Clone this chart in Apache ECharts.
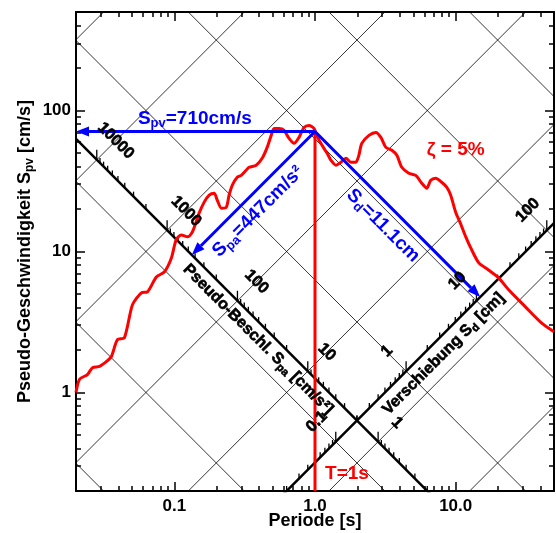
<!DOCTYPE html>
<html>
<head>
<meta charset="utf-8">
<title>Tripartites Antwortspektrum</title>
<script src="https://cdn.jsdelivr.net/npm/echarts@6.0.0/dist/echarts.min.js"></script>
<style>
  html, body { margin: 0; padding: 0; background: #fff; }
  #chart { width: 556px; height: 533px; }
</style>
</head>
<body>
<div id="chart"></div>
<script>
/**
 * Tripartites Antwortspektrum (zeta = 5 %)
 * Spv über T doppelt-logarithmisch, dazu Sd- und Spa-Diagonalen
 */

// axis ranges
const T_MIN = 0.02
const T_MAX = 50
const SPV_MIN = 0.2
const SPV_MAX = 500
const TWO_PI = 2 * Math.PI

// tick labels of the frame
const xTicks = [0.1, 1, 10]
const xTickLabels = ['0.1', '1.0', '10.0']
const yTicks = [1, 10, 100]
const yTickLabels = ['1', '10', '100']
const minorSteps = [2, 3, 4, 5, 6, 7, 8, 9]
const decades = [0.001, 0.01, 0.1, 1, 10, 100, 1000, 10000]

// diagonal grid lines
const sdGrid = [0.001, 0.01, 0.1, 1, 10, 100, 1000] // cm
const spaGrid = [0.1, 1, 10, 100, 1000, 10000, 100000] // cm/s²

// the two diagonal scales
const SPA_SCALE_SD = 0.2 // Spa scale lies on Sd = 0.2 cm
const SD_SCALE_SPA = 2 // Sd scale lies on Spa = 2 cm/s²
const spaLabels = [1, 10, 100, 1000, 10000]
const sdLabels = [0.1, 1, 10, 100]

// response spectrum, zeta = 5 %
const periods = [
  0.02, 0.0212, 0.0241, 0.0262, 0.0294, 0.033, 0.0357, 0.0394, 0.0442, 0.0504,
  0.0583, 0.0644, 0.0745, 0.0849, 0.0953, 0.103, 0.112, 0.124, 0.134, 0.143,
  0.15, 0.163, 0.177, 0.192, 0.202, 0.216, 0.234, 0.245, 0.258, 0.28,
  0.299, 0.324, 0.34, 0.382, 0.421, 0.457, 0.488, 0.512, 0.556, 0.603,
  0.654, 0.71, 0.77, 0.836, 0.906, 0.984, 1.03, 1.1, 1.22, 1.3,
  1.41, 1.53, 1.66, 1.8, 1.95, 2.05, 2.15, 2.42, 2.71, 2.94,
  3.19, 3.52, 3.82, 4.14, 4.64, 5.2, 5.74, 6.23, 6.65, 7.21,
  7.96, 8.63, 9.22, 10, 10.8, 11.8, 12.8, 14.6, 17.1, 20.2,
  23.8, 31.3, 40.7, 50
]
const spv = [
  1.0, 1.24, 1.34, 1.5, 1.53, 1.66, 1.8, 2.37, 2.45, 4.19,
  5.09, 5.17, 6.6, 7.16, 9.0, 12.1, 13.1, 12.7, 13.7, 16.2,
  18.7, 22.4, 25.1, 25.9, 23.1, 20.3, 20.6, 25.1, 29.5, 33.6,
  34.7, 37.7, 39.6, 40.9, 45.8, 54.8, 66.6, 74.6, 74.6, 72.3,
  63.4, 58.5, 64.5, 75.8, 78.3, 74.6, 66.6, 58.5, 49.7, 44.3,
  40.9, 43.0, 45.8, 43.0, 43.0, 48.1, 58.5, 66.6, 69.9, 64.5,
  54.8, 52.2, 48.1, 39.6, 35.9, 34.7, 30.5, 28.1, 32.0, 33.1,
  31.0, 28.6, 25.1, 19.0, 15.9, 12.7, 10.6, 8.3, 7.4, 6.5,
  5.35, 4.05, 3.12, 2.7
]

// reading at T = 1 s
const T_READ = 1
const SPV_READ = 71
const SD_READ = SPV_READ * T_READ / TWO_PI
const SPA_READ = SPV_READ * TWO_PI / T_READ

const FONT = '"Liberation Sans", Arial, Helvetica, sans-serif'
const BLUE = '#0000ff'
const RED = '#ff0000'

// --- geometry helpers (T [s], Spv [cm/s]) ---
const sdLine = (sd) => [[T_MIN, TWO_PI * sd / T_MIN], [T_MAX, TWO_PI * sd / T_MAX]]
const spaLine = (spa) => [[T_MIN, spa * T_MIN / TWO_PI], [T_MAX, spa * T_MAX / TWO_PI]]
// crossing of an Sd line and an Spa line
function cross(sd, spa) {
  const v = Math.sqrt(sd * spa)
  return [TWO_PI * sd / v, v]
}
const inside = (p) => p[0] >= T_MIN * 0.999 && p[0] <= T_MAX * 1.001 && p[1] >= SPV_MIN * 0.999 && p[1] <= SPV_MAX * 1.001

function minorValues(lo, hi) {
  const out = []
  decades.forEach((d) => minorSteps.forEach((m) => {
    const v = m * d
    if (v > lo * 1.001 && v < hi * 0.999) out.push(v)
  }))
  return out
}

// ticks along the diagonal scales: [T, Spv, major]
function diagTicks(pointOf) {
  const out = []
  decades.forEach((d) => [1].concat(minorSteps).forEach((m) => {
    const p = pointOf(m * d)
    if (inside(p)) out.push([p[0], p[1], m === 1 ? 1 : 0])
  }))
  return out
}
const spaTicks = diagTicks((spa) => cross(SPA_SCALE_SD, spa))
const sdTicks = diagTicks((sd) => cross(sd, SD_SCALE_SPA))

// --- rich text styles ---
function rich(size, sub, color, heavy) {
  const extra = heavy ? { stroke: color, lineWidth: 0.6 } : {}
  return {
    m: Object.assign({ fontSize: size, fontWeight: 'bold', fontFamily: FONT, fill: color, lineHeight: size + 4, verticalAlign: 'middle' }, extra),
    s: Object.assign({ fontSize: sub, fontWeight: 'bold', fontFamily: FONT, fill: color, lineHeight: sub, verticalAlign: 'bottom' }, extra),
  }
}

// texts anchored to data points, shifted in pixels
const notes = [
  { at: [0.14, SPV_READ], dx: 0, dy: -13, rot: 0, color: BLUE, size: 19, text: '{m|S}{s|pv}{m|=710cm/s}' },
  { at: [0.326, SPA_READ * 0.326 / TWO_PI], dx: 11.5, dy: 11.5, rot: 45, color: BLUE, size: 19, text: '{m|S}{s|pa}{m|=447cm/s²}' },
  { at: [3.77, TWO_PI * SD_READ / 3.77], dx: -13, dy: 13, rot: -45, color: BLUE, size: 19, text: '{m|S}{s|d}{m|=11.1cm}' },
  { at: [10, 53], dx: 0, dy: 0, rot: 0, color: RED, size: 19, text: '{m|ζ = 5%}' },
  { at: [T_READ, 0.264], dx: 32, dy: 0, rot: 0, color: RED, size: 19, text: '{m|T=1s}' },
  // diagonal scale titles
  { at: cross(SPA_SCALE_SD, 38), dx: -9, dy: 9, rot: -45, color: '#000', size: 16, heavy: true, text: '{m|Pseudo-Beschl. S}{s|pa}{m| [cm/s²]}' },
  { at: cross(2.46, SD_SCALE_SPA), dx: 10, dy: 10, rot: 45, color: '#000', size: 16, heavy: true, text: '{m|Verschiebung S}{s|d}{m| [cm]}' },
]
spaLabels.forEach((v) => notes.push({ at: cross(SPA_SCALE_SD, v), dx: 19, dy: -19, rot: -45, color: '#000', size: 16, heavy: true, text: '{m|' + v + '}' }))
sdLabels.forEach((v) => notes.push({ at: cross(v, SD_SCALE_SPA), dx: -19, dy: -20, rot: 45, color: '#000', size: 16, heavy: true, text: '{m|' + v + '}' }))

// --- axes ---
function frameAxis(dim, pos, major, withLabels) {
  const isX = dim === 'x'
  const ticks = isX ? xTicks : yTicks
  const labels = isX ? xTickLabels : yTickLabels
  const min = isX ? T_MIN : SPV_MIN
  const max = isX ? T_MAX : SPV_MAX
  return {
    type: 'log',
    logBase: 10,
    position: pos,
    min,
    max,
    silent: true,
    splitLine: { show: false },
    axisLine: { show: major, onZero: false, lineStyle: { color: '#000', width: 2 } },
    axisTick: {
      show: true,
      inside: true,
      length: major ? 9 : 5,
      customValues: major ? ticks : minorValues(min, max),
      lineStyle: { color: '#000', width: 1.5 },
    },
    axisLabel: {
      show: withLabels,
      customValues: ticks,
      margin: isX ? 7 : 5,
      color: '#000',
      fontSize: 17,
      fontWeight: 'bold',
      fontFamily: FONT,
      formatter: (v) => {
        const i = ticks.findIndex((t) => Math.abs(t - v) / t < 1e-6)
        return i < 0 ? '' : labels[i]
      },
    },
  }
}

const xAxes = [
  frameAxis('x', 'bottom', true, true),
  frameAxis('x', 'bottom', false, false),
  frameAxis('x', 'top', true, false),
  frameAxis('x', 'top', false, false),
]
Object.assign(xAxes[0], {
  name: 'Periode [s]',
  nameLocation: 'middle',
  nameGap: 21,
  nameMoveOverlap: false,
  nameTextStyle: { color: '#000', fontSize: 18, fontWeight: 'bold', fontFamily: FONT, verticalAlign: 'top' },
})
const yAxes = [
  frameAxis('y', 'left', true, true),
  frameAxis('y', 'left', false, false),
  frameAxis('y', 'right', true, false),
  frameAxis('y', 'right', false, false),
]
Object.assign(yAxes[0], {
  name: 'Pseudo-Geschwindigkeit S{s|pv} [cm/s]',
  nameLocation: 'middle',
  nameGap: 40,
  nameMoveOverlap: false,
  nameRotate: 90,
  nameTextStyle: {
    color: '#000', fontSize: 18, fontWeight: 'bold', fontFamily: FONT, lineHeight: 22,
    rich: { s: { color: '#000', fontSize: 12, fontWeight: 'bold', fontFamily: FONT, lineHeight: 12, verticalAlign: 'bottom' } },
  },
})

// --- series ---
const thin = { color: '#000', width: 0.8 }
const gridSeries = sdGrid.map(sdLine).concat(spaGrid.map(spaLine)).map((pts) => ({
  type: 'line', data: pts, showSymbol: false, silent: true, z: 1, lineStyle: thin,
}))
const scaleSeries = [sdLine(SPA_SCALE_SD), spaLine(SD_SCALE_SPA)].map((pts) => ({
  type: 'line', data: pts, showSymbol: false, silent: true, z: 2, lineStyle: { color: '#000', width: 2.5 },
}))

const tickSeries = {
  type: 'custom',
  silent: true,
  z: 2,
  data: spaTicks.concat(sdTicks),
  renderItem: (params, api) => {
    const p = api.coord([api.value(0), api.value(1)])
    const len = api.value(2) ? 10 : 5
    return {
      type: 'line',
      shape: { x1: p[0], y1: p[1], x2: p[0], y2: p[1] - len },
      style: { stroke: '#000', lineWidth: 1.3 },
    }
  },
}

const arrowEnds = [
  [T_MIN, SPV_READ],
  cross(SPA_SCALE_SD, SPA_READ),
  cross(SD_READ, SD_SCALE_SPA),
]
const arrowSeries = {
  type: 'custom',
  silent: true,
  z: 6,
  data: arrowEnds,
  renderItem: (params, api) => {
    const a = api.coord([T_READ, SPV_READ])
    const b = api.coord([api.value(0), api.value(1)])
    const dx = b[0] - a[0]
    const dy = b[1] - a[1]
    const L = Math.hypot(dx, dy)
    const ux = dx / L
    const uy = dy / L
    const HL = 13
    const HW = 5
    const bx = b[0] - ux * HL
    const by = b[1] - uy * HL
    return {
      type: 'group',
      children: [
        { type: 'line', shape: { x1: a[0], y1: a[1], x2: bx, y2: by }, style: { stroke: BLUE, lineWidth: 3 } },
        {
          type: 'polygon',
          shape: { points: [[b[0], b[1]], [bx - uy * HW, by + ux * HW], [bx + uy * HW, by - ux * HW]] },
          style: { fill: BLUE },
        },
      ],
    }
  },
}

const noteSeries = {
  type: 'custom',
  silent: true,
  z: 8,
  data: notes.map((n) => n.at),
  renderItem: (params, api) => {
    const n = notes[params.dataIndex]
    const p = api.coord([api.value(0), api.value(1)])
    return {
      type: 'text',
      x: p[0] + n.dx,
      y: p[1] + n.dy,
      rotation: (n.rot * Math.PI) / 180,
      style: {
        text: n.text,
        rich: rich(n.size, Math.round(n.size * 0.68), n.color, n.heavy),
        fill: n.color,
        fontSize: n.size,
        fontWeight: 'bold',
        fontFamily: FONT,
        align: 'center',
        verticalAlign: 'middle',
      },
    }
  },
}

const option = {
  animation: false,
  backgroundColor: '#fff',
  grid: { left: 76, right: 2, top: 12, bottom: 42, outerBoundsMode: 'none', containLabel: false },
  xAxis: xAxes,
  yAxis: yAxes,
  series: [
    ...gridSeries,
    ...scaleSeries,
    tickSeries,
    {
      type: 'line',
      name: 'Spektrum',
      data: periods.map((t, i) => [t, spv[i]]),
      showSymbol: false,
      smooth: 0.25,
      silent: true,
      z: 4,
      lineStyle: { color: RED, width: 3 },
    },
    {
      type: 'line',
      name: 'T=1s',
      data: [[T_READ, SPV_READ], [T_READ, SPV_MIN]],
      showSymbol: false,
      silent: true,
      z: 5,
      lineStyle: { color: RED, width: 3 },
    },
    arrowSeries,
    noteSeries,
  ],
}

const chart = echarts.init(document.getElementById('chart'), null, { renderer: 'canvas' })
chart.setOption(option)
</script>
</body>
</html>
